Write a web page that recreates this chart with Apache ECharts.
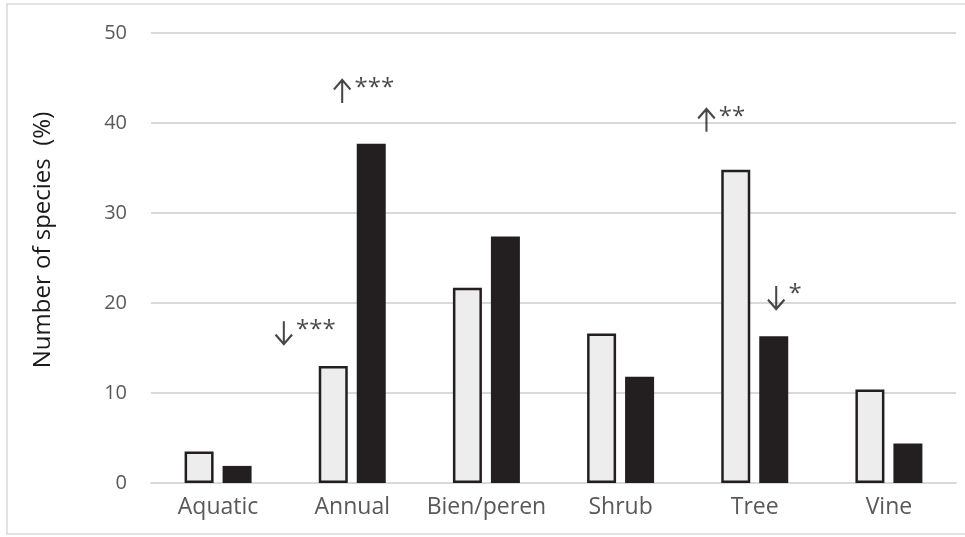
<!DOCTYPE html>
<html>
<head>
<meta charset="utf-8">
<script src="https://cdn.jsdelivr.net/npm/echarts@6/dist/echarts.min.js"></script>
<style>html,body{margin:0;padding:0;background:#fff}#c{width:965px;height:537px}</style>
</head>
<body>
<div id="c"></div>
<script>
// ---- data ----
var categories = ['Aquatic', 'Annual', 'Bien/peren', 'Shrub', 'Tree', 'Vine'];
var lightValues = [3.5, 13.0, 21.7, 16.6, 34.8, 10.4];
var darkValues  = [1.9, 37.7, 27.4, 11.8, 16.3, 4.4];
var yTicks = [0, 10, 20, 30, 40, 50];
// annotations: arrow x position (category units), arrow y value, direction, stars
var annoX     = [0.925, 0.49, 3.64, 4.16];
var annoY     = [43.5, 16.7, 40.3, 20.6];
var annoDir   = ['up', 'down', 'up', 'down'];
var annoStars = ['***', '***', '**', '*'];

var FONT = '"Open Sans", sans-serif';
var ARROW_UP = 'path://M10 0 L10 23 M0.5 9.5 L10 0 L19.5 9.5';
var ARROW_DOWN = 'path://M10 0 L10 23 M0.5 13.5 L10 23 L19.5 13.5';
var chart = echarts.init(document.getElementById('c'), null, {renderer: 'canvas'});

var annoData = annoX.map(function (x, i) {
  return {
    value: [x, annoY[i]],
    symbol: annoDir[i] === 'up' ? ARROW_UP : ARROW_DOWN,
    stars: annoStars[i]
  };
});

var option = {
  animation: false,
  backgroundColor: '#fff',
  graphic: [{
    type: 'rect', silent: true, z: -10,
    shape: {x: 7, y: 4, width: 962, height: 530},
    style: {fill: 'none', stroke: '#d9d9d9', lineWidth: 1.5}
  }],
  grid: {left: 151, right: 9, top: 33, bottom: 54},
  xAxis: [{
    type: 'category',
    data: categories,
    axisLine: {show: true, lineStyle: {color: '#d9d9d9', width: 2}},
    axisTick: {show: false},
    axisLabel: {color: '#595959', fontFamily: FONT, fontSize: 23, margin: 13, interval: 0}
  }, {
    type: 'value', min: -0.5, max: 5.5, show: false
  }],
  yAxis: {
    type: 'value',
    min: yTicks[0], max: yTicks[yTicks.length - 1], interval: 10,
    name: 'Number of species  (%)',
    nameLocation: 'middle',
    nameGap: 96,
    nameTextStyle: {color: '#1a1a1a', fontFamily: FONT, fontSize: 24, padding: [0, 0, 0, 36]},
    axisLine: {show: false},
    axisTick: {show: false},
    axisLabel: {color: '#595959', fontFamily: FONT, fontSize: 20, margin: 24},
    splitLine: {lineStyle: {color: '#d9d9d9', width: 2}}
  },
  series: [{
    type: 'bar',
    data: lightValues,
    barWidth: 29,
    barGap: '31%',
    itemStyle: {color: '#ededed', borderColor: '#231f20', borderWidth: 2.5}
  }, {
    type: 'bar',
    data: darkValues,
    barWidth: 29,
    barGap: '31%',
    itemStyle: {color: '#231f20'}
  }, {
    type: 'scatter',
    xAxisIndex: 1,
    yAxisIndex: 0,
    symbolSize: [20, 23],
    symbolKeepAspect: true,
    z: 10,
    itemStyle: {color: 'rgba(0,0,0,0)', borderColor: '#1a1a1a', borderWidth: 2.2},
    data: annoData,
    label: {
      show: true,
      position: 'right',
      distance: 3,
      offset: [0, -3],
      color: '#1a1a1a',
      fontFamily: FONT,
      fontSize: 24,
      formatter: function (p) { return p.data.stars; }
    }
  }]
};
chart.setOption(option);
</script>
</body>
</html>
